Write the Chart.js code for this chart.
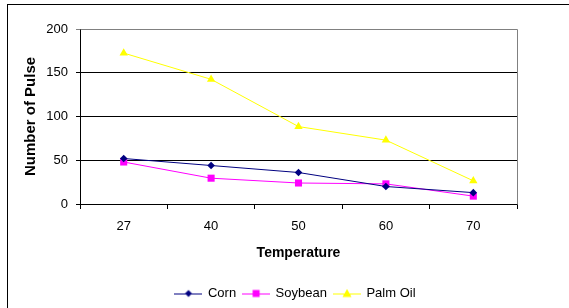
<!DOCTYPE html>
<html>
<head>
<meta charset="utf-8">
<script src="https://cdn.jsdelivr.net/npm/chart.js@4.4.0/dist/chart.umd.min.js"></script>
<style>
  html, body { margin: 0; padding: 0; background: #fff; overflow: hidden; }
  #wrap { position: relative; width: 569px; height: 308px; }
  #frame { position: absolute; left: 7px; top: 4px; width: 700px; height: 400px; border: 1px solid #000; }
  #chart { position: absolute; left: 0; top: 0; }
</style>
</head>
<body>
<div id="wrap">
  <div id="frame"></div>
  <canvas id="chart" width="569" height="308"></canvas>
</div>
<script>
const temperatures = ["27", "40", "50", "60", "70"];
const corn = [52, 44, 36, 20, 13];
const soybean = [48, 29.5, 24, 23, 9];
const palmOil = [172.5, 142.5, 88.5, 73, 26.5];

const seriesColors = ["#000080", "#FF00FF", "#FFFF00"];
const seriesStyles = ["rectRot", "rect", "triangle"];
const seriesRadius = [3.8, 5, 4.8];

// little legend swatch: line with the marker in the middle
const makeSwatch = (color, style) => {
  const c = document.createElement("canvas");
  c.width = 28;
  c.height = 10;
  const ctx = c.getContext("2d");
  ctx.strokeStyle = color;
  ctx.fillStyle = color;
  ctx.lineWidth = 1;
  ctx.beginPath();
  ctx.moveTo(0, 5.5);
  ctx.lineTo(28, 5.5);
  ctx.stroke();
  ctx.beginPath();
  if (style === "rectRot") {
    ctx.moveTo(14, 1.5); ctx.lineTo(17.5, 5); ctx.lineTo(14, 8.5); ctx.lineTo(10.5, 5);
  } else if (style === "rect") {
    ctx.rect(10.5, 1.5, 7, 7);
  } else {
    ctx.moveTo(14, 0.5); ctx.lineTo(18.5, 8.5); ctx.lineTo(9.5, 8.5);
  }
  ctx.closePath();
  ctx.fill();
  return c;
};
const swatches = seriesColors.map((c, i) => makeSwatch(c, seriesStyles[i]));

const plotFrame = {
  id: "plotFrame",
  afterLayout(chart) {
    // excel centres the legend on the whole chart box, not the plot
    const lg = chart.legend;
    lg.left += 37; lg.right += 37;
    lg.top += 6; lg.bottom += 6;
  },
  beforeDatasetsDraw(chart) {
    const {ctx, chartArea: a} = chart;
    ctx.save();
    ctx.strokeStyle = "#808080";
    ctx.lineWidth = 1;
    ctx.beginPath();
    ctx.moveTo(Math.round(a.left) + 0.5, Math.round(a.top) + 0.5);
    ctx.lineTo(Math.round(a.right) + 0.5, Math.round(a.top) + 0.5);
    ctx.lineTo(Math.round(a.right) + 0.5, Math.round(a.bottom) + 0.5);
    ctx.stroke();
    ctx.restore();
  }
};

const makeDataset = (label, data, i) => ({
  label: label,
  data: data,
  borderColor: seriesColors[i],
  backgroundColor: seriesColors[i],
  borderWidth: 1,
  pointStyle: seriesStyles[i],
  pointRadius: seriesRadius[i],
  pointBorderWidth: 0,
  pointBackgroundColor: seriesColors[i],
  tension: 0
});

new Chart(document.querySelector("#chart"), {
  type: "line",
  data: {
    labels: temperatures,
    datasets: [
      makeDataset("Corn", corn, 0),
      makeDataset("Soybean", soybean, 1),
      makeDataset("Palm Oil", palmOil, 2)
    ]
  },
  plugins: [plotFrame],
  options: {
    responsive: false,
    animation: false,
    layout: {padding: {left: 0, right: 52, top: 29, bottom: 4}},
    font: {family: "'Liberation Sans', Arial, sans-serif"},
    plugins: {
      tooltip: {enabled: false},
      legend: {
        position: "bottom",
        labels: {
          color: "#000",
          font: {family: "'Liberation Sans', Arial, sans-serif", size: 13},
          usePointStyle: true,
          pointStyleWidth: 26,
          boxHeight: 10,
          padding: 7,
          generateLabels: (chart) => {
            const items = Chart.defaults.plugins.legend.labels.generateLabels(chart);
            return items.map((it, i) => Object.assign(it, {pointStyle: swatches[i], lineWidth: 0}));
          }
        }
      }
    },
    scales: {
      x: {
        offset: true,
        grid: {offset: true, drawOnChartArea: false, color: "#000", tickLength: 5},
        border: {color: "#000"},
        ticks: {color: "#000", font: {family: "'Liberation Sans', Arial, sans-serif", size: 13}, padding: 10},
        title: {
          display: true,
          text: "Temperature",
          color: "#000",
          font: {family: "'Liberation Sans', Arial, sans-serif", size: 14, weight: "bold"},
          padding: {top: 8, bottom: 12}
        },
        afterFit: (scale) => { scale.height = 70; }
      },
      y: {
        min: 0,
        max: 200,
        ticks: {stepSize: 50, color: "#000", font: {family: "'Liberation Sans', Arial, sans-serif", size: 13}, padding: 8},
        grid: {
          color: (c) => (c.tick && c.tick.value === 200 ? "#808080" : "#000"),
          tickLength: 4
        },
        border: {color: "#000"},
        title: {
          display: true,
          text: "Number of Pulse",
          color: "#000",
          font: {family: "'Liberation Sans', Arial, sans-serif", size: 15, weight: "bold"},
          padding: {top: 22, bottom: 4}
        },
        afterFit: (scale) => { scale.width = 80; }
      }
    }
  }
});
</script>
</body>
</html>
